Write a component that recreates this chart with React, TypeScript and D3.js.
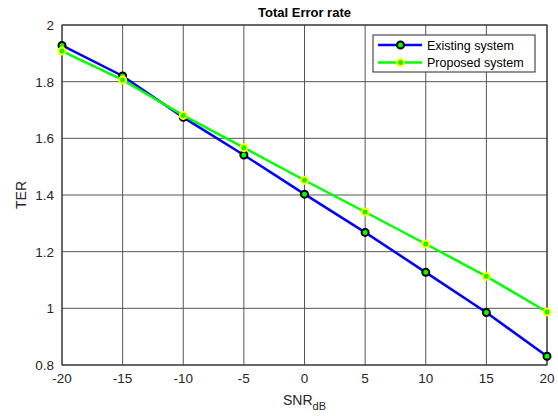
import React from "react";
import * as d3 from "d3";

const snr = [-20, -15, -10, -5, 0, 5, 10, 15, 20];
const existing = [1.928, 1.82, 1.674, 1.541, 1.403, 1.268, 1.127, 0.985, 0.831];
const proposed = [1.908, 1.806, 1.681, 1.567, 1.452, 1.34, 1.227, 1.113, 0.987];
const xTicks = [-20, -15, -10, -5, 0, 5, 10, 15, 20];
const yTicks = [0.8, 1, 1.2, 1.4, 1.6, 1.8, 2];

const W = 558, H = 416;
const L = 62, R = 547, T = 25, B = 365;
const FONT = "'Liberation Sans', Arial, sans-serif";

export default function App() {
  const x = d3.scaleLinear().domain([-20, 20]).range([L, R]);
  const y = d3.scaleLinear().domain([0.8, 2]).range([B, T]);
  const line = d3.line<number>().x((_, i) => x(snr[i])).y((d) => y(d));
  const series = [
    { name: "Existing system", data: existing, color: "#0000ff", edge: "#000000" },
    { name: "Proposed system", data: proposed, color: "#00ff00", edge: "#ffff00" },
  ];
  return (
    <svg width={W} height={H} style={{ position: "absolute", left: 0, top: 0, background: "#fff" }} fontFamily={FONT}>
      <rect x={0} y={0} width={W} height={H} fill="#fff" />
      {xTicks.map((t) => (
        <line key={"gx" + t} x1={x(t)} x2={x(t)} y1={T} y2={B} stroke="#555" strokeWidth={1} />
      ))}
      {yTicks.map((t) => (
        <line key={"gy" + t} x1={L} x2={R} y1={y(t)} y2={y(t)} stroke="#555" strokeWidth={1} />
      ))}
      <rect x={L} y={T} width={R - L} height={B - T} fill="none" stroke="#262626" strokeWidth={1} />
      {xTicks.map((t) => (
        <text key={"tx" + t} x={x(t)} y={B + 18} textAnchor="middle" fontSize={13.5} fill="#262626">{t}</text>
      ))}
      {yTicks.map((t) => (
        <text key={"ty" + t} x={L - 8} y={y(t) + 5} textAnchor="end" fontSize={13.5} fill="#262626">{t}</text>
      ))}
      <text x={(L + R) / 2} y={17} textAnchor="middle" fontSize={13} fontWeight="bold" fill="#000">Total Error rate</text>
      <text x={(L + R) / 2} y={405} textAnchor="middle" fontSize={14} fill="#262626">
        SNR<tspan fontSize={11} dy={5}>dB</tspan>
      </text>
      <text transform={`translate(26,${(T + B) / 2}) rotate(-90)`} textAnchor="middle" fontSize={14} fill="#262626">TER</text>
      {series.map((s) => (
        <g key={s.name}>
          <path d={line(s.data) || ""} fill="none" stroke={s.color} strokeWidth={2.5} />
          {s.data.map((v, i) => (
            <circle key={i} cx={x(snr[i])} cy={y(v)} r={3.5} fill="#00ff00" stroke={s.edge} strokeWidth={2} />
          ))}
        </g>
      ))}
      <rect x={373} y={35} width={162} height={37} fill="#fff" stroke="#262626" strokeWidth={1} />
      {series.map((s, i) => {
        const cy = 45 + i * 17.5;
        return (
          <g key={"lg" + s.name}>
            <line x1={378} x2={422} y1={cy} y2={cy} stroke={s.color} strokeWidth={2.5} />
            <circle cx={400.5} cy={cy} r={3.5} fill="#00ff00" stroke={s.edge} strokeWidth={2} />
            <text x={427} y={cy + 4.5} fontSize={12.5} fill="#000">{s.name}</text>
          </g>
        );
      })}
    </svg>
  );
}
